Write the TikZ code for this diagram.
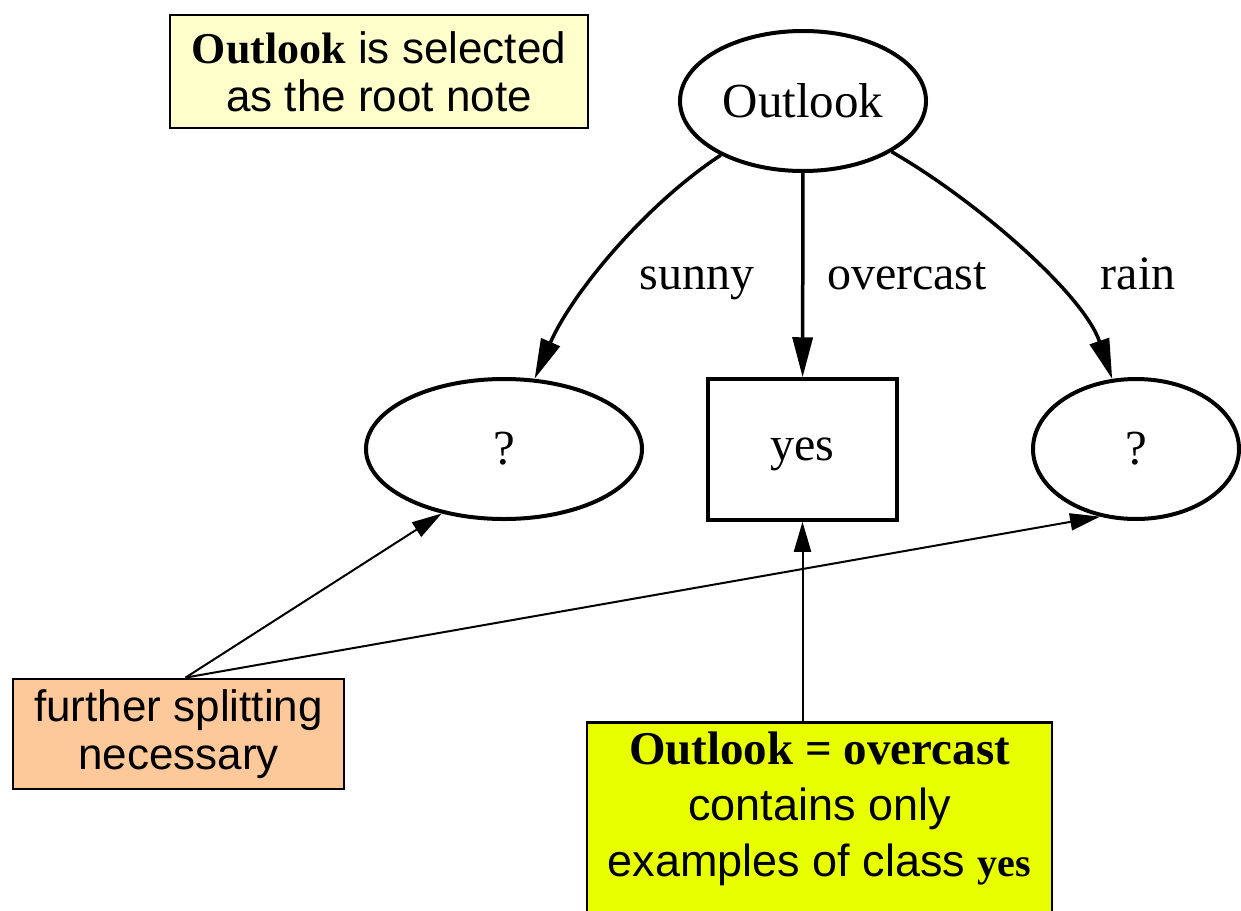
\documentclass[tikz,border=0pt]{standalone}
\usepackage{fontspec}
\setmainfont{Liberation Sans}
\newfontfamily\seriffam{Liberation Serif}
\usetikzlibrary{arrows.meta,shapes.geometric,calc}
\definecolor{notefill}{RGB}{255,255,204}
\definecolor{splitfill}{RGB}{253,201,154}
\definecolor{leaffill}{RGB}{232,255,0}

\begin{document}
\begin{tikzpicture}[x=1pt,y=1pt,
  treenode/.style={draw, line width=4pt, ellipse, inner sep=0pt,
    font=\seriffam\fontsize{49}{52}\selectfont},
  leafnode/.style={draw, line width=3.5pt, rectangle, inner sep=0pt,
    text height=22pt, text depth=0pt,
    font=\seriffam\fontsize{48}{52}\selectfont},
  branch/.style={line width=3.5pt, -{Triangle[length=40pt,width=20pt]}},
  edgelabel/.style={anchor=base, inner sep=0pt,
    font=\seriffam\fontsize{48}{52}\selectfont},
  note/.style={draw, line width=2.8pt, inner sep=0pt, align=center,
    font=\fontsize{44}{48}\selectfont},
  pointer/.style={line width=2pt, -{Triangle[length=30pt,width=17pt]}}
]
\useasboundingbox (0,0) rectangle (1241,-910);
\fill[white] (0,0) rectangle (1241,-910);
\clip (0,0) rectangle (1241,-910);

% decision tree
\node[treenode, minimum width=246pt, minimum height=140pt] (outlook) at (803,-101) {Outlook};
\node[treenode, minimum width=276pt, minimum height=140pt] (leftq) at (504,-449) {?};
\node[treenode, minimum width=206pt, minimum height=140pt] (rightq) at (1136,-449) {?};
\node[leafnode, minimum width=189pt, minimum height=141pt] (yes) at (802.5,-449.5) {yes};

\draw[branch] (outlook) .. controls (645,-205) and (572,-293) .. (leftq);
\draw[branch] (outlook) -- (yes);
\draw[branch] (outlook) .. controls (974,-199) and (1083,-293) .. (rightq);

\node[edgelabel] (lsunny) at (697,-289) {sunny};
\node[edgelabel] (lover) at (907,-289) {overcast};
\node[edgelabel] (lrain) at (1138,-289) {rain};

% annotations
\node[note, fill=notefill, minimum width=418pt, minimum height=113pt] (root) at (379,-71.5)
  {{\seriffam\bfseries Outlook} is selected\\as the root note};
\node[note, fill=splitfill, minimum width=331pt, minimum height=110pt] (split) at (178.5,-734)
  {further splitting\\necessary};
\node[draw, line width=2.8pt, fill=leaffill, inner sep=0pt, anchor=north] (pure) at (819.5,-721)
  {\begin{minipage}[t][220pt][t]{465pt}\centering\fontsize{45}{56}\selectfont
   \rule{0pt}{42pt}{\seriffam\bfseries\fontsize{47}{56}\selectfont Outlook = overcast}\\
   contains only\\
   examples of class {\seriffam\bfseries\fontsize{40}{56}\selectfont yes}\end{minipage}};

\draw[pointer] ([xshift=7pt]split.north) -- (leftq.-134);
\draw[pointer] ([xshift=7pt]split.north) -- (rightq.-118);
\draw[pointer] (pure.north -| yes.south) -- (yes.south);
\end{tikzpicture}
\end{document}
